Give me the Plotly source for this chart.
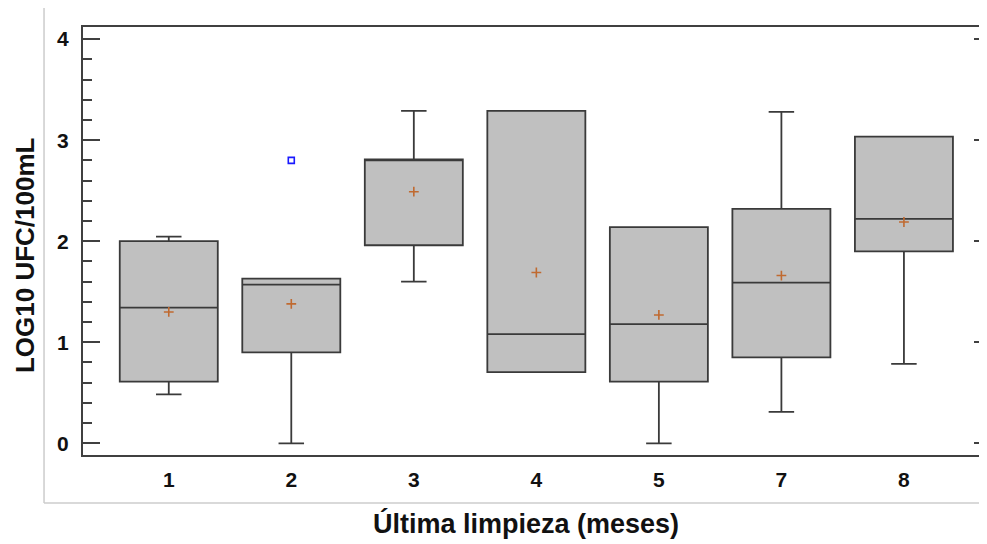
import plotly.graph_objects as go

categories = ["1", "2", "3", "4", "5", "7", "8"]
q1 = [0.61, 0.90, 1.96, 0.705, 0.61, 0.85, 1.90]
median = [1.343, 1.57, 2.80, 1.08, 1.18, 1.59, 2.22]
q3 = [2.00, 1.63, 2.81, 3.29, 2.14, 2.32, 3.035]
lower = [0.485, 0.0, 1.60, 0.705, 0.0, 0.31, 0.785]
upper = [2.045, 1.63, 3.29, 3.29, 2.14, 3.28, 3.035]
means = [1.30, 1.38, 2.49, 1.69, 1.27, 1.66, 2.19]
outlier_x = ["2"]
outlier_y = [2.80]

FONT = "Liberation Sans, Arial, sans-serif"
AX = "#404040"

fig = go.Figure()
fig.add_trace(go.Box(
    x=categories, q1=q1, median=median, q3=q3,
    lowerfence=lower, upperfence=upper,
    width=0.8, whiskerwidth=0.26,
    fillcolor="#c0c0c0", line=dict(color="#3a3a3a", width=1.8),
    boxpoints=False, showlegend=False, hoverinfo="skip",
))
fig.add_trace(go.Scatter(
    x=categories, y=means, mode="markers", showlegend=False,
    marker=dict(symbol="cross-thin", size=7, line=dict(color="#c06a30", width=1.6)),
))
fig.add_trace(go.Scatter(
    x=outlier_x, y=outlier_y, mode="markers", showlegend=False,
    marker=dict(symbol="square-open", size=6, color="#1a1aff", line=dict(color="#1a1aff", width=1.6)),
))
# invisible trace to anchor right-side tick axis
fig.add_trace(go.Scatter(x=[categories[0]], y=[None], yaxis="y2", showlegend=False, hoverinfo="skip"))

fig.update_layout(
    width=979, height=536,
    margin=dict(l=75, r=0, t=19, b=89),
    paper_bgcolor="white", plot_bgcolor="white",
    xaxis=dict(
        type="category", categoryorder="array", categoryarray=categories,
        range=[-0.7, 6.678], showline=True, linecolor=AX, linewidth=2, mirror=True,
        ticks="", showgrid=False, zeroline=False,
        tickfont=dict(family=FONT, size=21, color="#111", weight="bold"),
        ticklabelstandoff=5,
    ),
    yaxis=dict(
        range=[-0.116, 4.12], dtick=1, tick0=0, showline=True, linecolor=AX, linewidth=2,
        mirror=False, ticks="inside", ticklen=17, tickwidth=2, tickcolor=AX,
        minor=dict(dtick=0.2, ticks="inside", ticklen=9, tickwidth=2, tickcolor=AX, showgrid=False),
        showgrid=False, zeroline=False,
        tickfont=dict(family=FONT, size=21, color="#111", weight="bold"),
        ticklabelstandoff=8,
    ),
    yaxis2=dict(
        overlaying="y", side="right", matches="y", showline=False,
        ticks="inside", ticklen=13, tickwidth=2, tickcolor=AX, dtick=1, tick0=0,
        minor=dict(dtick=0.2, ticks="inside", ticklen=5, tickwidth=2, tickcolor=AX, showgrid=False),
        showticklabels=False, showgrid=False, zeroline=False,
    ),
    shapes=[
        dict(type="line", xref="paper", yref="paper", x0=-0.0431, x1=-0.0431, y0=1.06, y1=-0.112,
             line=dict(color="#cccccc", width=1.5)),
        dict(type="line", xref="paper", yref="paper", x0=-0.0431, x1=1.0, y0=-0.112, y1=-0.112,
             line=dict(color="#cccccc", width=1.5)),
    ],
    annotations=[
        dict(text="LOG10 UFC/100mL", xref="paper", yref="paper", x=-0.0642, y=0.467,
             textangle=-90, showarrow=False, xanchor="center", yanchor="middle",
             font=dict(family=FONT, size=26, color="#111", weight="bold")),
        dict(text="Última limpieza (meses)", xref="paper", yref="paper", x=0.490, y=-0.159,
             showarrow=False, xanchor="center", yanchor="middle",
             font=dict(family=FONT, size=27, color="#111", weight="bold")),
    ],
)

fig.write_html("out.html")
